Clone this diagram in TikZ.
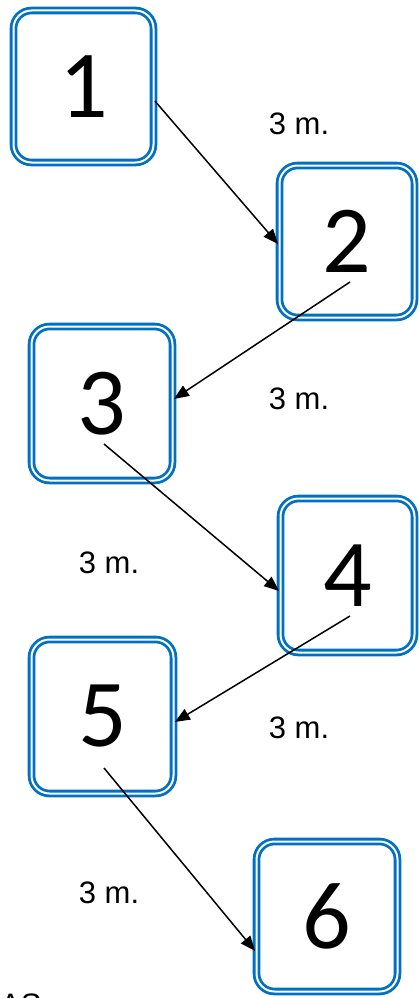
\documentclass[tikz,border=0pt]{standalone}
\usepackage{fontspec}
\setmainfont{Liberation Sans}
\newfontfamily\digitfont{Carlito}
\usetikzlibrary{arrows.meta,calc}
\definecolor{boxblue}{HTML}{0070C0}
\begin{document}
\begin{tikzpicture}[x=1pt,y=-1pt,
  numbox/.style={draw=boxblue, line width=2.8pt, double=white, double distance=2pt,
    rounded corners=18pt, inner sep=0pt, font=\digitfont\fontsize{96}{96}\selectfont},
  conn/.style={line width=1.5pt, -{Triangle[length=15pt,width=12pt]}},
  lbl/.style={inner sep=0pt, font=\fontsize{31}{31}\selectfont}]
\useasboundingbox (0,0) rectangle (418,998);
\node[numbox, minimum width=140pt, minimum height=152pt] (b1) at (83.5,86.5) {1};
\node[numbox, minimum width=135pt, minimum height=152pt] (b2) at (347,241.5) {2};
\node[numbox, minimum width=141pt, minimum height=154pt] (b3) at (102,403.5) {3};
\node[numbox, minimum width=134pt, minimum height=154pt] (b4) at (347.5,575.5) {4};
\node[numbox, minimum width=142pt, minimum height=154pt] (b5) at (102.5,716.5) {5};
\node[numbox, minimum width=141pt, minimum height=150pt] (b6) at (327,916.5) {6};
\draw[conn] ($(b1.east)+(0,14.5)$) -- ($(b2.west)+(0,2.5)$);
\draw[conn] ($(b2.center)+(3,40.5)$) -- ($(b3.east)+(0,-4.5)$);
\draw[conn] ($(b3.center)+(2,40.5)$) -- ($(b4.west)+(0,15.5)$);
\draw[conn] ($(b4.center)+(2.5,40.5)$) -- ($(b5.east)+(0,5.5)$);
\draw[conn] ($(b5.center)+(1.5,51.5)$) -- ($(b6.west)+(0,34.5)$);
\node[lbl] (l1) at (299,124) {3 m.};
\node[lbl] (l2) at (299,399) {3 m.};
\node[lbl] (l3) at (109,563) {3 m.};
\node[lbl] (l4) at (299,728) {3 m.};
\node[lbl] (l5) at (109,893) {3 m.};
\node[lbl, anchor=base west] (as) at (0,1015) {AS};
\end{tikzpicture}
\end{document}
